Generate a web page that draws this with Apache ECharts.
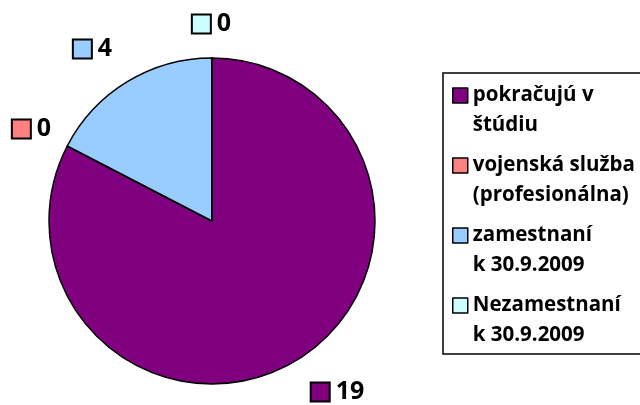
<!DOCTYPE html>
<html>
<head>
<meta charset="utf-8">
<script src="https://cdn.jsdelivr.net/npm/echarts@6/dist/echarts.min.js"></script>
<style>
html,body{margin:0;padding:0;background:#fff;}
#chart{width:640px;height:405px;}
</style>
</head>
<body>
<div id="chart"></div>
<script>
const categories = ['pokračujú v štúdiu', 'vojenská služba (profesionálna)', 'zamestnaní k 30.9.2009', 'Nezamestnaní k 30.9.2009'];
const legendLabels = ['pokračujú v\nštúdiu', 'vojenská služba\n(profesionálna)', 'zamestnaní\nk 30.9.2009', 'Nezamestnaní\nk 30.9.2009'];
const values = [19, 0, 4, 0];
const colors = ['#800080', '#FF8080', '#99CCFF', '#CCFFFF'];
// label anchor points (layout only)
const labelPos = [[338, 392], [32, 129], [93, 49], [212, 24]];

const FONT = '"Open Sans"';
const chart = echarts.init(document.getElementById('chart'), null, {renderer: 'canvas'});
const data = categories.map((c, i) => ({
  name: c,
  value: values[i],
  itemStyle: {color: colors[i]},
  label: {
    rich: {
      box: {width: 17, height: 17, backgroundColor: colors[i], borderColor: '#000', borderWidth: 2},
      v: {fontFamily: FONT, fontWeight: 'bold', fontSize: 25, color: '#000', padding: [0, 0, 0, 7]}
    }
  }
}));
chart.setOption({
  backgroundColor: '#fff',
  animation: false,
  legend: {
    orient: 'vertical',
    left: 443,
    top: 73,
    padding: [7, 14, 4, 9],
    itemGap: 10,
    itemWidth: 15,
    itemHeight: 44,
    icon: 'path://M0,0H15V15H0Z M0,44',
    borderColor: '#000',
    borderWidth: 1.5,
    itemStyle: {borderColor: '#000', borderWidth: 1.5},
    formatter: function (name) { return legendLabels[categories.indexOf(name)]; },
    textStyle: {fontFamily: FONT, fontWeight: 'bold', fontSize: 20.5, color: '#000', lineHeight: 30},
    data: categories
  },
  series: [{
    type: 'pie',
    center: [212, 221],
    radius: 163,
    startAngle: 90,
    clockwise: true,
    avoidLabelOverlap: false,
    itemStyle: {borderColor: '#000', borderWidth: 1.5},
    emphasis: {disabled: true},
    label: {
      show: true,
      position: 'outside',
      formatter: '{box|}{v|{c}}'
    },
    labelLine: {show: false},
    labelLayout: function (p) {
      const pos = labelPos[p.dataIndex];
      return {x: pos[0], y: pos[1], align: 'center', verticalAlign: 'middle'};
    },
    data: data
  }]
});
</script>
</body>
</html>
